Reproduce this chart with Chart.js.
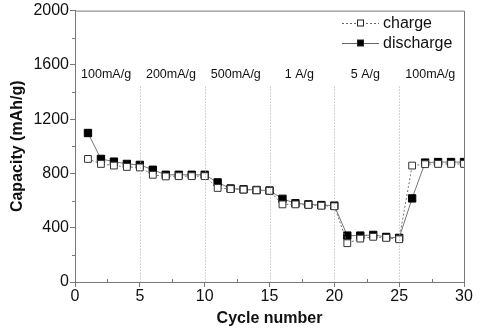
<!DOCTYPE html>
<html lang="en">

<head>
    <meta charset="UTF-8">
    <title>Rate capability</title>
    <script src="https://cdn.jsdelivr.net/npm/chart.js"></script>
    <style>
        html, body { margin: 0; padding: 0; background: #fff; }
        #wrap { width: 499px; height: 332px; }
    </style>
</head>

<body>
    <div id="wrap"><canvas id="rateChart" width="499" height="332"></canvas></div>

    <script>
        // cycle numbers 1..30
        const cycles = [1, 2, 3, 4, 5, 6, 7, 8, 9, 10, 11, 12, 13, 14, 15, 16, 17, 18, 19, 20, 21, 22, 23, 24, 25, 26, 27, 28, 29, 30];
        const chargeCap = [907, 870, 858, 848, 844, 790, 778, 780, 780, 780, 693, 685, 681, 676, 672, 572, 572, 568, 562, 558, 286, 320, 333, 325, 315, 858, 868, 870, 870, 870];
        const dischargeCap = [1098, 907, 887, 870, 863, 827, 790, 790, 790, 790, 734, 689, 683, 678, 674, 613, 580, 572, 567, 563, 342, 342, 347, 332, 325, 616, 880, 884, 884, 884];

        // current-density segments
        const rateLabels = ['100mA/g', '200mA/g', '500mA/g', '1 A/g', '5 A/g', '100mA/g'];
        const rateLabelX = [2.4, 7.4, 12.4, 17.3, 22.4, 27.4];
        const rateBounds = [5, 10, 15, 20, 25];

        const FONT = '"Liberation Sans", Arial, sans-serif';

        // frame, minor ticks, dotted separators, rate labels, legend
        const decorations = {
            id: 'decorations',
            afterDatasetsDraw(chart) {
                const { ctx, chartArea: a, scales: { x, y } } = chart;
                ctx.save();

                // top + right frame
                ctx.strokeStyle = '#777';
                ctx.lineWidth = 1;
                ctx.beginPath();
                ctx.moveTo(a.left, a.top + 0.5);
                ctx.lineTo(a.right + 0.5, a.top + 0.5);
                ctx.lineTo(a.right + 0.5, a.bottom);
                ctx.stroke();

                // minor ticks
                ctx.beginPath();
                for (let v = 2.5; v < 30; v += 5) {
                    const px = Math.round(x.getPixelForValue(v)) + 0.5;
                    ctx.moveTo(px, a.bottom);
                    ctx.lineTo(px, a.bottom - 3);
                }
                for (let v = 200; v < 2000; v += 400) {
                    const py = Math.round(y.getPixelForValue(v)) + 0.5;
                    ctx.moveTo(a.left, py);
                    ctx.lineTo(a.left - 3, py);
                }
                ctx.stroke();

                // dotted separators
                ctx.strokeStyle = '#aaa';
                ctx.setLineDash([1, 2]);
                ctx.beginPath();
                rateBounds.forEach(v => {
                    const px = Math.round(x.getPixelForValue(v)) + 0.5;
                    ctx.moveTo(px, y.getPixelForValue(1440));
                    ctx.lineTo(px, a.bottom);
                });
                ctx.stroke();
                ctx.setLineDash([]);

                // rate labels
                ctx.fillStyle = '#111';
                ctx.font = '12.5px ' + FONT;
                ctx.textAlign = 'center';
                ctx.textBaseline = 'middle';
                rateLabels.forEach((t, i) => {
                    ctx.fillText(t, x.getPixelForValue(rateLabelX[i]), y.getPixelForValue(1527));
                });

                // legend
                const items = [
                    { text: 'charge', fill: '#fff', dash: [2, 2], yPos: 23 },
                    { text: 'discharge', fill: '#000', dash: [], yPos: 43 }
                ];
                ctx.font = '16px ' + FONT;
                ctx.textAlign = 'left';
                items.forEach(it => {
                    ctx.strokeStyle = '#666';
                    ctx.setLineDash(it.dash);
                    ctx.beginPath();
                    ctx.moveTo(342, it.yPos + 0.5);
                    ctx.lineTo(379, it.yPos + 0.5);
                    ctx.stroke();
                    ctx.setLineDash([]);
                    ctx.fillStyle = it.fill;
                    ctx.strokeStyle = '#222';
                    ctx.fillRect(357.5, it.yPos - 3, 6, 6);
                    ctx.strokeRect(357.5, it.yPos - 3, 6, 6);
                    ctx.fillStyle = '#111';
                    ctx.fillText(it.text, 383, it.yPos + 1);
                });

                ctx.restore();
            }
        };

        const ctx = document.getElementById('rateChart').getContext('2d');
        new Chart(ctx, {
            type: 'line',
            data: {
                datasets: [
                    {
                        label: 'charge',
                        data: cycles.map((c, i) => ({ x: c, y: chargeCap[i] })),
                        borderColor: '#777',
                        borderWidth: 1,
                        borderDash: [2, 2],
                        pointStyle: 'rect',
                        pointRadius: 4.8,
                        pointBackgroundColor: '#fff',
                        pointBorderColor: '#333',
                        pointBorderWidth: 1
                    },
                    {
                        label: 'discharge',
                        data: cycles.map((c, i) => ({ x: c, y: dischargeCap[i] })),
                        borderColor: '#777',
                        borderWidth: 1,
                        pointStyle: 'rect',
                        pointRadius: 5.2,
                        pointBackgroundColor: '#000',
                        pointBorderColor: '#000',
                        pointBorderWidth: 1
                    }
                ]
            },
            options: {
                responsive: false,
                animation: false,
                layout: { padding: { top: 4, right: 35, left: 4, bottom: 0 } },
                plugins: {
                    legend: { display: false },
                    tooltip: { enabled: false }
                },
                scales: {
                    x: {
                        type: 'linear',
                        min: 0,
                        max: 30,
                        ticks: { stepSize: 5, color: '#111', font: { family: FONT, size: 16 }, padding: 0, callback: v => String(v) },
                        grid: { drawOnChartArea: false, tickLength: 5, color: '#777' },
                        border: { color: '#777' },
                        title: { display: true, text: 'Cycle number', color: '#111', font: { family: FONT, size: 16, weight: 'bold' }, padding: { top: 8 } },
                        afterFit(scale) { scale.height = 50; }
                    },
                    y: {
                        min: 0,
                        max: 2000,
                        ticks: { stepSize: 400, color: '#111', font: { family: FONT, size: 16 }, padding: 1, callback: v => String(v) },
                        grid: { drawOnChartArea: false, tickLength: 5, color: '#777' },
                        border: { color: '#777' },
                        title: { display: true, text: 'Capacity (mAh/g)', color: '#111', font: { family: FONT, size: 16, weight: 'bold' }, padding: { bottom: 2 } },
                        afterFit(scale) { scale.width = 71; }
                    }
                }
            },
            plugins: [decorations]
        });
    </script>
</body>

</html>
